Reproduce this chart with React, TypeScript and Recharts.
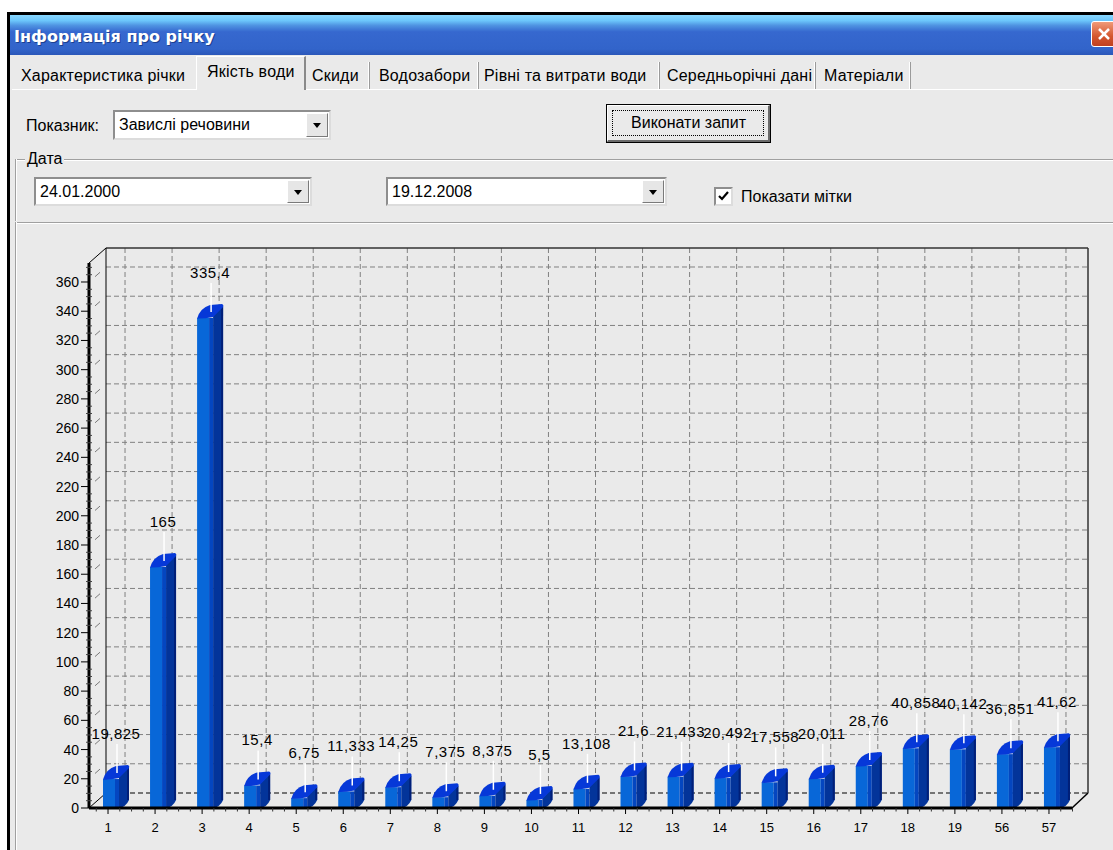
import React from 'react';
import { BarChart, Bar, XAxis, YAxis, CartesianGrid, LabelList, Customized } from 'recharts';

// ---------- data ----------
const CATEGORIES = ['1', '2', '3', '4', '5', '6', '7', '8', '9', '10', '11', '12', '13', '14', '15', '16', '17', '18', '19', '56', '57'];
const VALUES = [19.825, 165, 335.4, 15.4, 6.75, 11.333, 14.25, 7.375, 8.375, 5.5, 13.108, 21.6, 21.433, 20.492, 17.558, 20.011, 28.76, 40.858, 40.142, 36.851, 41.62];
const Y_TICKS = [0, 20, 40, 60, 80, 100, 120, 140, 160, 180, 200, 220, 240, 260, 280, 300, 320, 340, 360];
const Y_MAX = 373;
const TAB_LABELS = ['Характеристика річки', 'Якість води', 'Скиди', 'Водозабори', 'Рівні та витрати води', 'Середньорічні дані', 'Матеріали'];

const data = CATEGORIES.map((c, i) => ({ cat: c, value: VALUES[i] }));

// ---------- layout ----------
const FONT = '"Liberation Sans", Arial, sans-serif';
const BG = '#eaeaea';
const CH_TOP = 222;
const CH_W = 1113;
const CH_H = 628;
const M_TOP = 41;
const M_RIGHT = 41;
const Y_W = 89;
const X_H = 42;
const PLOT_L = Y_W;
const PLOT_R = CH_W - M_RIGHT;
const PLOT_T = M_TOP;
const PLOT_B = CH_H - X_H;
const PAD_L = -4.5;
const PAD_R = -0.5;
const DEPTH_X = 17;
const DEPTH_Y = 15;
const PX_PER_UNIT = (PLOT_B - PLOT_T) / Y_MAX;
const BAND = (PLOT_R - PLOT_L - PAD_L - PAD_R) / CATEGORIES.length;

const fmt = (v: number) => String(v).replace('.', ',');

// ---------- chart parts ----------
const YTick = (props: any) => {
  const { y, payload } = props;
  const v = payload.value as number;
  const ax = PLOT_L;
  const minors: number[] = [];
  for (let k = 1; k < 4; k++) {
    if (v + k * 5 < Y_MAX) minors.push(y - k * 5 * PX_PER_UNIT);
  }
  return (
    <g>
      <text x={ax - 10} y={y + 5} textAnchor="end" fontSize={14} fill="#000" fontFamily={FONT}>{v}</text>
      <line x1={ax - 8} x2={ax} y1={y} y2={y} stroke="#000" strokeWidth={1} />
      {minors.map((m, i) => (
        <line key={i} x1={ax - 3} x2={ax + 3} y1={m} y2={m} stroke="#444" strokeWidth={1} />
      ))}
      {v > 0 && (
        <line x1={ax + 6} y1={y - 5.3} x2={ax + 11} y2={y - 9.7} stroke="#7a7a7a" strokeWidth={1} />
      )}
    </g>
  );
};

const XTick = (props: any) => {
  const { x, payload, index } = props;
  const ay = PLOT_B;
  const step = BAND / 4;
  const minors: number[] = [];
  for (let k = index === 0 ? -1 : 1; k <= 3; k++) {
    if (k === 0) continue;
    const tx = x + k * step;
    if (tx >= PLOT_L && tx <= PLOT_R + 1) minors.push(tx);
  }
  return (
    <g>
      <line x1={x} x2={x} y1={ay} y2={ay + 6} stroke="#000" strokeWidth={1} />
      {minors.map((m, i) => (
        <line key={i} x1={m} x2={m} y1={ay} y2={ay + 3.5} stroke="#333" strokeWidth={1} />
      ))}
      <text x={x} y={ay + 24} textAnchor="middle" fontSize={13} fill="#000" fontFamily={FONT}>{payload.value}</text>
    </g>
  );
};

const Bar3D = (props: any) => {
  const { x, y, width, height } = props;
  if (x == null || y == null || height == null) return null;
  const c = x + width / 2;
  const base = y + height;
  const fl = c - 5;
  const fm = c + 7;
  const fr = c + 11;
  const sr = c + 21;
  const d = 13;
  const sideBottom = Math.max(y - d, base - 8);
  return (
    <g>
      <rect x={fl} y={y} width={fm - fl} height={Math.max(0, base - y)} fill="#0867d8" />
      <rect x={fm} y={y} width={fr - fm} height={Math.max(0, base - y)} fill="#0446c0" />
      <path
        d={`M${fr},${y - 2} L${sr},${y - d + 1} L${sr},${sideBottom} Q${sr - 3},${base - 1} ${fr},${base} Z`}
        fill="#03349a"
      />
      <line x1={sr - 1} y1={y - d + 2} x2={sr - 1} y2={sideBottom} stroke="#011f78" strokeWidth={2} />
      <path
        d={`M${fl},${y + 0.5} Q${fl + 3},${y - 10} ${fl + 13},${y - d} L${sr - 1},${y - d - 1} Q${sr + 1},${y - d} ${sr},${y - d + 2} L${fr},${y - 1} Q${fl + 6},${y + 1} ${fl},${y + 0.5} Z`}
        fill="#0638d8"
      />
    </g>
  );
};

const renderLabel = (props: any) => {
  const { x, y, width, value } = props;
  if (x == null || y == null) return null;
  const c = x + width / 2;
  return (
    <g>
      <line x1={c + 9} x2={c + 9} y1={y - 35} y2={y - 6} stroke="#ffffff" strokeWidth={1.5} />
      <text x={c + 8} y={y - 40} textAnchor="middle" fontSize={15} letterSpacing={0.5} fill="#000" fontFamily={FONT}>
        {fmt(value as number)}
      </text>
    </g>
  );
};

const BackFrame = () => {
  const bl = PLOT_L + DEPTH_X;
  const bt = PLOT_T - DEPTH_Y;
  const br = PLOT_R + DEPTH_X - 1;
  const bb = PLOT_B - DEPTH_Y;
  return (
    <g>
      <line x1={PLOT_L} y1={PLOT_T} x2={bl} y2={bt} stroke="#000" strokeWidth={1} />
      <line x1={bl} y1={bt} x2={br} y2={bt} stroke="#333" strokeWidth={1.5} />
      <line x1={br} y1={bt} x2={br} y2={bb} stroke="#333" strokeWidth={1.5} />
      <line x1={bl} y1={bt} x2={bl} y2={bb} stroke="#000" strokeWidth={1} />
      <line x1={bl} y1={bb} x2={br} y2={bb} stroke="#000" strokeWidth={1} strokeDasharray="5 3" />
      <line x1={PLOT_L} y1={PLOT_B} x2={bl} y2={bb} stroke="#000" strokeWidth={1} />
      <line x1={PLOT_R} y1={PLOT_B} x2={br} y2={bb} stroke="#000" strokeWidth={1.5} />
    </g>
  );
};

const hGen = (args: any) => {
  const s = args && args.yAxis && args.yAxis.scale;
  return Y_TICKS.filter((t) => t > 0).map((t) =>
    (typeof s === 'function' ? s(t) : PLOT_B - t * PX_PER_UNIT) - DEPTH_Y
  );
};

const vGen = (args: any) => {
  const s = args && args.xAxis && args.xAxis.scale;
  return CATEGORIES.map((c, i) => {
    if (typeof s === 'function' && typeof s.bandwidth === 'function') {
      return s(c) + s.bandwidth() / 2 + DEPTH_X;
    }
    return PLOT_L + PAD_L + (i + 0.5) * BAND + DEPTH_X;
  });
};

// ---------- UI chrome ----------
const abs = (l: number, t: number, w: number, h: number, extra: any = {}) => ({
  position: 'absolute' as const, left: l, top: t, width: w, height: h, boxSizing: 'border-box' as const, ...extra,
});

const Triangle = () => (
  <div style={{ position: 'absolute', left: '50%', top: '50%', marginLeft: -4, marginTop: -2, width: 0, height: 0, borderLeft: '4px solid transparent', borderRight: '4px solid transparent', borderTop: '5px solid #000' }} />
);

const Combo = ({ l, t, w, h, text }: { l: number; t: number; w: number; h: number; text: string }) => (
  <div style={abs(l, t, w, h, { background: '#fff', borderTop: '2px solid #8e8e8e', borderLeft: '2px solid #8e8e8e', borderBottom: '2px solid #dcdcdc', borderRight: '2px solid #dcdcdc' })}>
    <div style={{ position: 'absolute', left: 4, top: 0, lineHeight: `${h - 4}px`, fontSize: 16, color: '#000', whiteSpace: 'nowrap' }}>{text}</div>
    <div style={{ position: 'absolute', right: 1, top: 1, bottom: 1, width: 22, background: '#e6e6e6', borderTop: '1px solid #fff', borderLeft: '1px solid #fff', borderRight: '1px solid #7a7a7a', borderBottom: '1px solid #7a7a7a', boxSizing: 'border-box' }}>
      <Triangle />
    </div>
  </div>
);

const HLine = ({ l, t, w }: { l: number; t: number; w: number }) => (
  <>
    <div style={abs(l, t, w, 1, { background: '#a0a0a0' })} />
    <div style={abs(l, t + 1, w, 1, { background: '#ffffff' })} />
  </>
);
const VLine = ({ l, t, h }: { l: number; t: number; h: number }) => (
  <>
    <div style={abs(l, t, 1, h, { background: '#a0a0a0' })} />
    <div style={abs(l + 1, t, 1, h, { background: '#ffffff' })} />
  </>
);

const TabText = ({ x, y, text }: { x: number; y: number; text: string }) => (
  <div style={{ position: 'absolute', left: x, top: y - 10, height: 20, lineHeight: '20px', fontSize: 16, letterSpacing: 0.2, color: '#000', whiteSpace: 'nowrap' }}>{text}</div>
);

export default function App() {
  return (
    <div style={{ position: 'absolute', left: 0, top: 0, width: 1113, height: 850, overflow: 'hidden', background: '#fff', fontFamily: FONT }}>
      {/* window body */}
      <div style={abs(10, 15, 1103, 835, { background: BG })} />
      <div style={abs(7, 12, 1106, 3, { background: '#000' })} />
      <div style={abs(7, 12, 3, 838, { background: '#000' })} />

      {/* title bar */}
      <div style={abs(10, 15, 1103, 40, { background: 'linear-gradient(to bottom, #8ad8ff 0%, #6cc6fb 14%, #4f94e2 26%, #3668cf 42%, #3264ca 85%, #2b57b9 100%)' })} />
      <div style={{ position: 'absolute', left: 14, top: 26, height: 22, lineHeight: '22px', fontSize: 16, fontWeight: 'bold', color: '#fff', textShadow: '1px 1px 0 #1b3f8f', whiteSpace: 'nowrap', fontFamily: '"DejaVu Sans", "Liberation Sans", sans-serif' }}>Інформація про річку</div>
      <div style={abs(1091, 21, 26, 26, { borderRadius: 3, border: '1px solid #fff', background: 'linear-gradient(to bottom, #f09a78, #d4562e 60%, #c04020)' })}>
        <svg width={26} height={26} style={{ position: 'absolute', left: 0, top: 0 }}>
          <line x1={7} y1={7} x2={17} y2={17} stroke="#fff" strokeWidth={2.5} />
          <line x1={17} y1={7} x2={7} y2={17} stroke="#fff" strokeWidth={2.5} />
        </svg>
      </div>

      {/* tabs */}
      <div style={abs(12, 89, 184, 1, { background: '#fff' })} />
      <div style={abs(306, 89, 807, 1, { background: '#fff' })} />
      <div style={abs(196, 56, 110, 34, { background: BG, borderTop: '1px solid #fff', borderLeft: '1px solid #fff', borderRight: '2px solid #8a8a8a' })} />
      <TabText x={21} y={76} text={TAB_LABELS[0]} />
      <TabText x={207} y={72} text={TAB_LABELS[1]} />
      <TabText x={312} y={76} text={TAB_LABELS[2]} />
      <TabText x={379} y={76} text={TAB_LABELS[3]} />
      <TabText x={484} y={76} text={TAB_LABELS[4]} />
      <TabText x={667} y={76} text={TAB_LABELS[5]} />
      <TabText x={824} y={76} text={TAB_LABELS[6]} />
      {[368, 477, 658, 814, 909].map((sx) => (
        <React.Fragment key={sx}>
          <div style={abs(sx, 62, 1, 27, { background: '#fff' })} />
          <div style={abs(sx + 1, 62, 1, 27, { background: '#9a9a9a' })} />
        </React.Fragment>
      ))}

      {/* controls */}
      <div style={{ position: 'absolute', left: 26, top: 115, height: 22, lineHeight: '22px', fontSize: 16, color: '#000', whiteSpace: 'nowrap' }}>Показник:</div>
      <Combo l={113} t={110} w={218} h={30} text="Завислі речовини" />

      <div style={abs(606, 104, 165, 39, { border: '1px solid #000', background: BG })}>
        <div style={abs(0, 0, 163, 37, { borderTop: '1px solid #fff', borderLeft: '1px solid #fff', borderRight: '2px solid #6a6a6a', borderBottom: '2px solid #6a6a6a' })} />
        <div style={abs(5, 5, 152, 26, { border: '1px dotted #000' })} />
        <div style={{ position: 'absolute', left: 0, top: 0, width: 163, height: 37, lineHeight: '36px', textAlign: 'center', fontSize: 16, color: '#000', whiteSpace: 'nowrap' }}>Виконати запит</div>
      </div>

      <HLine l={15} t={159} w={1098} />
      <VLine l={15} t={159} h={62} />
      <div style={{ position: 'absolute', left: 25, top: 149, height: 20, lineHeight: '20px', padding: '0 2px', background: BG, fontSize: 16, color: '#000' }}>Дата</div>

      <Combo l={34} t={177} w={278} h={29} text="24.01.2000" />
      <Combo l={386} t={177} w={281} h={29} text="19.12.2008" />

      <div style={abs(714, 187, 19, 19, { background: '#fff', borderTop: '2px solid #8e8e8e', borderLeft: '2px solid #8e8e8e', borderBottom: '2px solid #dcdcdc', borderRight: '2px solid #dcdcdc' })}>
        <svg width={15} height={15} style={{ position: 'absolute', left: 0, top: 0 }}>
          <polyline points="3,7 6,10 12,3" fill="none" stroke="#000" strokeWidth={2.2} />
        </svg>
      </div>
      <div style={{ position: 'absolute', left: 741, top: 186, height: 22, lineHeight: '22px', fontSize: 16, color: '#000', whiteSpace: 'nowrap' }}>Показати мітки</div>

      {/* chart panel */}
      <HLine l={15} t={CH_TOP} w={1098} />
      <VLine l={15} t={CH_TOP} h={850 - CH_TOP} />

      <div style={{ position: 'absolute', left: 0, top: CH_TOP, width: CH_W, height: CH_H }}>
        <BarChart
          width={CH_W}
          height={CH_H}
          data={data}
          margin={{ top: M_TOP, right: M_RIGHT, bottom: 0, left: 0 }}
          barCategoryGap={0}
        >
          <CartesianGrid
            x={PLOT_L + DEPTH_X}
            y={PLOT_T - DEPTH_Y}
            width={PLOT_R - PLOT_L - 1}
            height={PLOT_B - PLOT_T}
            stroke="#808080"
            strokeDasharray="5 3"
            fill="none"
            horizontalCoordinatesGenerator={hGen}
            verticalCoordinatesGenerator={vGen}
          />
          <Customized component={BackFrame} />
          <XAxis
            dataKey="cat"
            type="category"
            height={X_H}
            interval={0}
            padding={{ left: PAD_L, right: PAD_R }}
            axisLine={{ stroke: '#000', strokeWidth: 3 }}
            tickLine={false}
            tickSize={0}
            tickMargin={0}
            tick={<XTick />}
          />
          <YAxis
            type="number"
            width={Y_W}
            domain={[0, Y_MAX]}
            ticks={Y_TICKS}
            interval={0}
            allowDecimals={false}
            axisLine={{ stroke: '#000', strokeWidth: 3 }}
            tickLine={false}
            tickSize={0}
            tickMargin={0}
            tick={<YTick />}
          />
          <Bar dataKey="value" barSize={15} isAnimationActive={false} shape={<Bar3D />}>
            <LabelList dataKey="value" content={renderLabel} />
          </Bar>
        </BarChart>
      </div>
    </div>
  );
}
